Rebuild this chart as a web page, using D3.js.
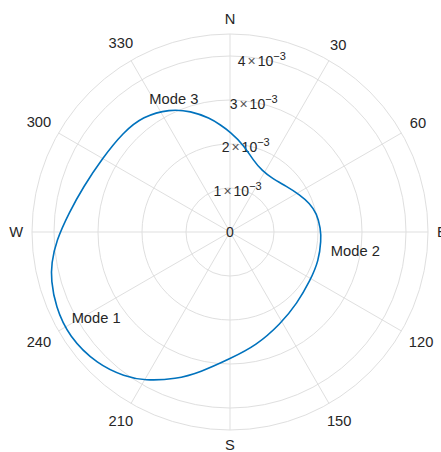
<!DOCTYPE html>
<html lang="en">
<head>
  <meta charset="utf-8"/>
  <script src="https://d3js.org/d3.v7.min.js"></script>
  <style>
    body { margin: 0; background: #fff; }
    .grid { fill: none; stroke: #dfdfdf; stroke-width: 1px; }
    .lbl { font-family: "Liberation Sans", Arial, Helvetica, sans-serif; fill: #262626; }
  </style>
</head>
<body>
  <div id="chart"></div>
  <script>
    // compass angle (deg, clockwise from north) and radius (x 1e-3)
    const thetaDeg = [0, 9, 18, 28, 38, 51, 62, 70, 78, 88, 95, 108, 121, 137, 151, 167, 180,
                      192, 200, 210, 216, 225, 237, 247, 255, 260, 267, 277, 287, 300, 313, 323,
                      334, 342, 350, 355];
    const radius = [2.28, 2.00, 1.71, 1.57, 1.55, 1.65, 1.80, 1.92, 2.02, 2.06, 2.08, 2.12, 2.13,
                    2.23, 2.38, 2.65, 2.88, 3.26, 3.56, 3.90, 4.06, 4.26, 4.37, 4.31, 4.21, 4.12,
                    3.96, 3.68, 3.49, 3.35, 3.32, 3.29, 3.11, 2.89, 2.63, 2.44];

    const rTicks = [0, 1, 2, 3, 4];
    const rMax = 4.5;
    const thetaTicks = [0, 30, 60, 90, 120, 150, 180, 210, 240, 270, 300, 330];
    const thetaLabels = ["N", "30", "60", "E", "120", "150", "S", "210", "240", "W", "300", "330"];

    // text annotations: angle, radius, text
    const modeTheta = [241.4, 100.4, 328.7];
    const modeR = [4.10, 2.33, 3.53];
    const modeText = ["Mode 1", "Mode 2", "Mode 3"];

    const width = 441, height = 452;
    const cx = 230, cy = 232;

    const svg = d3.select("#chart").append("svg")
      .attr("width", width)
      .attr("height", height);

    const g = svg.append("g").attr("transform", `translate(${cx},${cy})`);

    const r = d3.scaleLinear().domain([0, rMax]).range([0, 198]);
    const rad = d => d * Math.PI / 180;
    // compass -> screen
    const px = (t, d) => d * Math.sin(rad(t));
    const py = (t, d) => -d * Math.cos(rad(t));

    // rings
    g.selectAll("circle.grid")
      .data(rTicks.filter(d => d > 0).concat([rMax]))
      .enter().append("circle")
      .attr("class", "grid")
      .attr("r", d => r(d));

    // spokes
    g.selectAll("line.grid")
      .data(thetaTicks)
      .enter().append("line")
      .attr("class", "grid")
      .attr("x1", 0).attr("y1", 0)
      .attr("x2", d => px(d, r(rMax)))
      .attr("y2", d => py(d, r(rMax)));

    // theta labels
    const fs = 14.7;
    const thetaLbl = g.selectAll("text.theta")
      .data(thetaTicks)
      .enter().append("text")
      .attr("class", "lbl theta")
      .attr("font-size", fs + "px")
      .attr("text-anchor", "middle")
      .attr("dominant-baseline", "central")
      .text((d, i) => thetaLabels[i]);
    thetaLbl.each(function(d) {
      const w = this.getComputedTextLength();
      const dist = r(rMax) + 9 + (w / 2) * Math.abs(Math.sin(rad(d))) + 6 * Math.abs(Math.cos(rad(d)));
      d3.select(this).attr("x", px(d, dist)).attr("y", py(d, dist));
    });

    // r tick labels
    const rLbl = g.selectAll("text.rtick")
      .data(rTicks)
      .enter().append("text")
      .attr("class", "lbl rtick")
      .attr("font-size", "14px")
      .attr("text-anchor", "middle")
      .attr("dominant-baseline", "central")
      .attr("x", d => px(10.5, Math.max(0, r(d) - 2)))
      .attr("y", d => py(10.5, Math.max(0, r(d) - 2)));
    rLbl.each(function(d) {
      const t = d3.select(this);
      if (d === 0) { t.text("0"); return; }
      t.append("tspan").text(d);
      t.append("tspan").attr("dx", 2).attr("fill", "#555").text("\u00d7");
      t.append("tspan").attr("dx", 2).text("10");
      t.append("tspan").attr("font-size", "11px").attr("dy", -5).text("\u22123");
    });

    // curve
    const pts = thetaDeg.map((t, i) => [t, radius[i]]);
    const line = d3.lineRadial()
      .angle(d => rad(d[0]))
      .radius(d => r(d[1]))
      .curve(d3.curveBasisClosed);

    g.append("path")
      .datum(pts)
      .attr("d", line)
      .attr("fill", "none")
      .attr("stroke", "#0072BD")
      .attr("stroke-width", 1.6);

    // annotations
    g.selectAll("text.mode")
      .data(modeText)
      .enter().append("text")
      .attr("class", "lbl mode")
      .attr("font-size", fs + "px")
      .attr("dominant-baseline", "central")
      .attr("x", (d, i) => px(modeTheta[i], r(modeR[i])))
      .attr("y", (d, i) => py(modeTheta[i], r(modeR[i])))
      .text(d => d);
  </script>
</body>
</html>
